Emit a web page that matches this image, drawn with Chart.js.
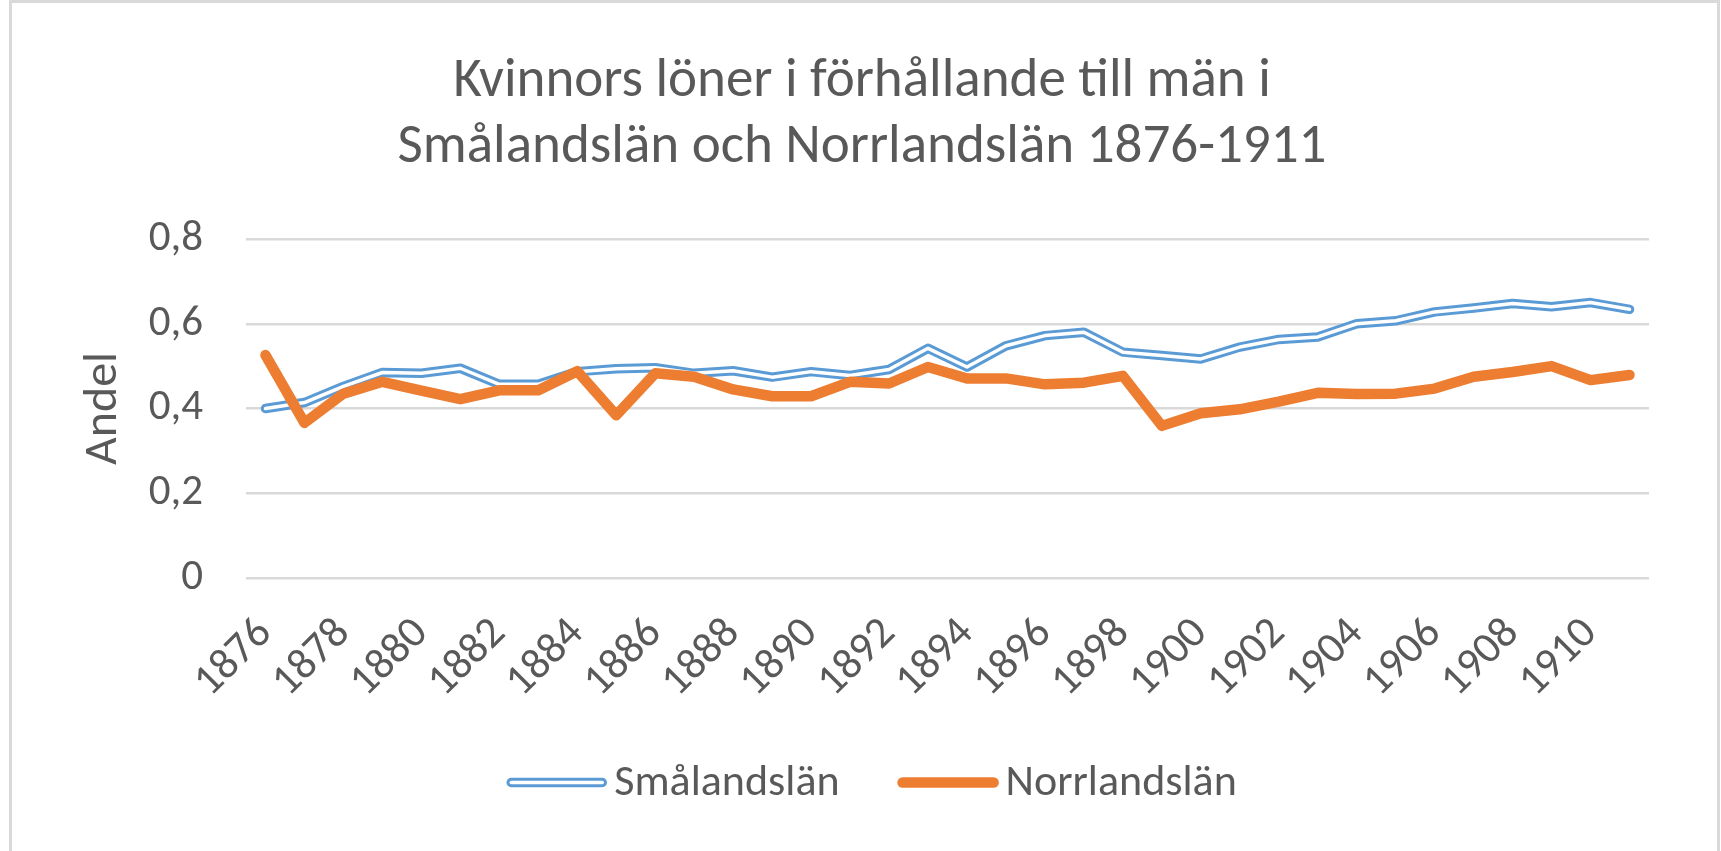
<!DOCTYPE html>
<html lang="sv">
<head>
<meta charset="utf-8">
<title>Kvinnors löner i förhållande till män</title>
<script src="https://cdn.jsdelivr.net/npm/chart.js@4.4.1/dist/chart.umd.min.js"></script>
<style>
    html, body { margin: 0; padding: 0; background: #fff; }
    #cadre { width: 1721px; height: 851px; position: relative; }
</style>
</head>
<body>
<div id="cadre"><canvas id="graphique"></canvas></div>
<script>
const ANNEES = [
    '1876', '1877', '1878', '1879', '1880', '1881', '1882', '1883', '1884',
    '1885', '1886', '1887', '1888', '1889', '1890', '1891', '1892', '1893',
    '1894', '1895', '1896', '1897', '1898', '1899', '1900', '1901', '1902',
    '1903', '1904', '1905', '1906', '1907', '1908', '1909', '1910', '1911',
];

const SMALAND = [
    0.400, 0.414, 0.452, 0.485, 0.483, 0.495, 0.457, 0.457, 0.487,
    0.494, 0.496, 0.483, 0.489, 0.474, 0.487, 0.478, 0.492, 0.542,
    0.498, 0.548, 0.572, 0.580, 0.533, 0.525, 0.517, 0.545, 0.563,
    0.569, 0.600, 0.607, 0.628, 0.637, 0.648, 0.640, 0.650, 0.634,
];

const NORRLAND = [
    0.526, 0.366, 0.435, 0.463, 0.442, 0.422, 0.443, 0.443, 0.488,
    0.384, 0.483, 0.475, 0.445, 0.429, 0.429, 0.463, 0.459, 0.498,
    0.471, 0.471, 0.457, 0.461, 0.477, 0.359, 0.389, 0.398, 0.416,
    0.437, 0.434, 0.435, 0.447, 0.475, 0.486, 0.500, 0.467, 0.479,
];

const SERIES = ['Smålandslän', 'Norrlandslän'];
const TITRE = ['Kvinnors löner i förhållande till män i', 'Smålandslän och Norrlandslän 1876-1911'];
const TITRE_AXE_Y = 'Andel';

const POLICE = 'Carlito, Calibri, Lato, sans-serif';
const GRIS_TEXTE = '#595959';
const GRIS_GRILLE = '#d9d9d9';
const BLEU = '#5b9bd5';
const ORANGE = '#ed7d31';

function formaterAndel(v) {
    return v === 0 ? '0' : v.toFixed(1).replace('.', ',');
}

// ── Cadre et légende façon Excel ────────────────────────────────────────────

const pluginCadre = {
    id: 'cadre',
    beforeDraw(chart) {
        const { ctx, width, height } = chart;
        ctx.save();
        ctx.fillStyle = '#fff';
        ctx.fillRect(0, 0, width, height);
        ctx.strokeStyle = GRIS_GRILLE;
        ctx.lineWidth = 3;
        ctx.strokeRect(10.5, 1.5, width - 13, height + 20);
        ctx.restore();
    }
};

const pluginLegende = {
    id: 'legendeExcel',
    afterDraw(chart) {
        const { ctx } = chart;
        const elements = chart.data.datasets.filter(d => !d.interieur);
        const longueur = 101, ecart = 7, entre = 58, y = 782.5;

        ctx.save();
        ctx.font = `44px ${POLICE}`;
        const largeurs = elements.map(d => longueur + ecart + ctx.measureText(d.label).width);
        const total = largeurs.reduce((a, b) => a + b, 0) + entre * (elements.length - 1);
        let x = 871.5 - total / 2;

        elements.forEach((d, i) => {
            ctx.lineCap = 'round';
            ctx.beginPath();
            ctx.moveTo(x + 5, y);
            ctx.lineTo(x + longueur - 5, y);
            ctx.strokeStyle = d.borderColor;
            ctx.lineWidth = d.borderWidth;
            ctx.stroke();
            if (d.double) {
                ctx.beginPath();
                ctx.moveTo(x + 5, y);
                ctx.lineTo(x + longueur - 5, y);
                ctx.strokeStyle = '#fff';
                ctx.lineWidth = 3.5;
                ctx.stroke();
            }
            ctx.fillStyle = GRIS_TEXTE;
            ctx.textAlign = 'left';
            ctx.textBaseline = 'alphabetic';
            ctx.fillText(d.label, x + longueur + ecart, 795);
            x += largeurs[i] + entre;
        });
        ctx.restore();
    }
};

// ── Graphique ───────────────────────────────────────────────────────────────

function creerGraphique() {
    const ctx = document.getElementById('graphique');

    const ligne = { pointRadius: 0, tension: 0, borderJoinStyle: 'round', borderCapStyle: 'round', fill: false };

    new Chart(ctx, {
        type: 'line',
        data: {
            labels: ANNEES,
            datasets: [
                { ...ligne, label: SERIES[0], data: SMALAND, borderColor: BLEU, borderWidth: 9.5, double: true, order: 3 },
                { ...ligne, label: SERIES[0], data: SMALAND, borderColor: '#fff', borderWidth: 3.5, interieur: true, order: 2 },
                { ...ligne, label: SERIES[1], data: NORRLAND, borderColor: ORANGE, borderWidth: 10.5, order: 1 },
            ]
        },
        options: {
            responsive: true,
            maintainAspectRatio: false,
            animation: false,
            events: [],
            layout: { padding: { top: 0, left: 75, right: 72, bottom: 133 } },
            plugins: {
                legend: { display: false },
                tooltip: { enabled: false },
                title: {
                    display: true,
                    text: TITRE,
                    color: GRIS_TEXTE,
                    font: { family: POLICE, size: 55, weight: 'normal', lineHeight: 1.2 },
                    padding: { top: 49, bottom: 58 },
                },
            },
            scales: {
                x: {
                    offset: true,
                    grid: { display: false, drawTicks: false },
                    border: { display: false },
                    ticks: {
                        autoSkip: false,
                        minRotation: 45,
                        maxRotation: 45,
                        padding: 30,
                        color: GRIS_TEXTE,
                        font: { family: POLICE, size: 44 },
                        callback(v, i) { return i % 2 === 0 ? this.getLabelForValue(v) : ''; },
                    },
                    afterFit(scale) { scale.height = 140; },
                },
                y: {
                    min: 0,
                    max: 0.8,
                    grid: { color: GRIS_GRILLE, lineWidth: 2.5, drawTicks: false },
                    border: { display: false },
                    ticks: {
                        stepSize: 0.2,
                        padding: 43,
                        color: GRIS_TEXTE,
                        font: { family: POLICE, size: 43 },
                        callback: formaterAndel,
                    },
                    title: {
                        display: true,
                        text: TITRE_AXE_Y,
                        color: GRIS_TEXTE,
                        font: { family: POLICE, size: 48 },
                        padding: 0,
                    },
                    afterFit(scale) { scale.width = 171; },
                },
            }
        },
        plugins: [pluginCadre, pluginLegende]
    });
}

document.addEventListener('DOMContentLoaded', creerGraphique);
</script>
</body>
</html>
